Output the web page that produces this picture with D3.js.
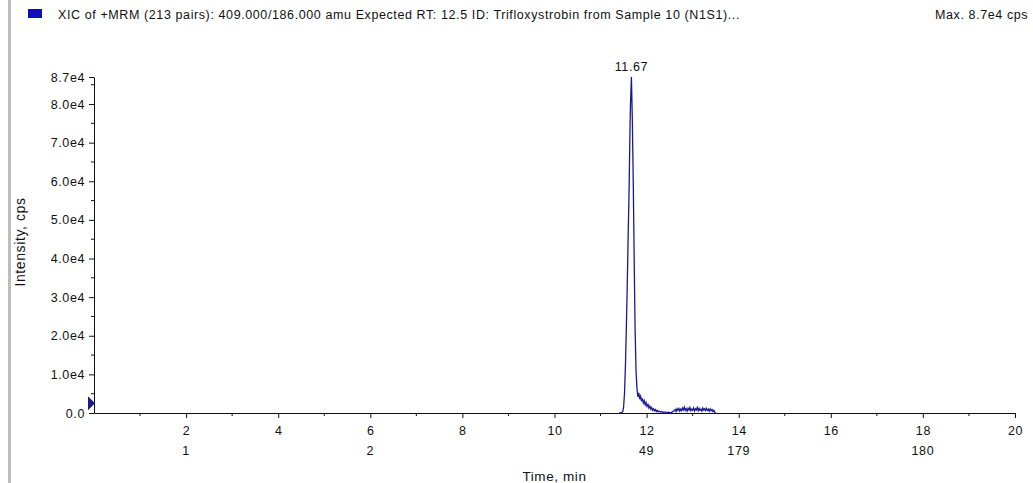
<!DOCTYPE html>
<html lang="en">
<head>
    <meta charset="UTF-8">
    <script src="https://d3js.org/d3.v7.min.js"></script>
    <style>
        body { margin: 0; background: #fff; font-family: Arial, "Liberation Sans", sans-serif; }
        svg { display: block; }
        .axis path, .axis line { stroke: #111; }
        .axis text { font-size: 12.5px; fill: #111; letter-spacing: 0.6px; }
        .lbl { letter-spacing: 0.6px; fill: #111; }
    </style>
</head>
<body>
    <svg id="chart"></svg>
    <script>
        const title = "XIC of +MRM (213 pairs): 409.000/186.000 amu Expected RT: 12.5 ID: Trifloxystrobin from Sample 10 (N1S1)...";
        const maxLabel = "Max. 8.7e4 cps";

        // retention time (min) and intensity (cps)
        const times = [11.40, 11.44, 11.48, 11.50, 11.52, 11.54, 11.56, 11.58, 11.60, 11.62, 11.64, 11.65, 11.67, 11.69, 11.71, 11.73, 11.75, 11.77, 11.79,
            11.81, 11.83, 11.85, 11.87, 11.89, 11.91, 11.93, 11.95, 11.97, 11.99, 12.01, 12.03, 12.05, 12.07, 12.09, 12.11, 12.13, 12.15, 12.17, 12.19,
            12.21, 12.23, 12.25, 12.27, 12.30, 12.33, 12.36, 12.40, 12.44, 12.48, 12.52, 12.56, 12.60, 12.62, 12.64, 12.66, 12.68, 12.70, 12.72, 12.74,
            12.76, 12.78, 12.80, 12.82, 12.84, 12.86, 12.88, 12.90, 12.92, 12.94, 12.96, 12.98, 13.00, 13.02, 13.04, 13.06, 13.08, 13.10, 13.12, 13.14,
            13.16, 13.18, 13.20, 13.22, 13.24, 13.26, 13.28, 13.30, 13.32, 13.34, 13.36, 13.38, 13.40, 13.42, 13.44, 13.46, 13.48, 13.50];
        const intensity = [0, 0, 300, 1500, 5000, 12000, 22000, 33000, 46000, 58000, 74000, 80000, 87000, 76000, 60000, 40000, 22000, 11000, 6500,
            4200, 5200, 3600, 4300, 3000, 3800, 2600, 3200, 2100, 2700, 1700, 2200, 1300, 1800, 1000, 1400, 700, 1100, 600, 900,
            400, 700, 300, 500, 200, 400, 100, 300, 100, 200, 0, 300, 600, 900, 400, 1100, 700, 1200, 500, 1000,
            600, 1300, 800, 1500, 700, 1100, 500, 1200, 800, 1400, 600, 1000, 700, 1300, 500, 1100, 800, 1400, 600, 1200,
            700, 1000, 500, 1300, 800, 1100, 600, 1200, 700, 1000, 500, 1100, 600, 900, 400, 700, 200, 0];

        const peakTime = 11.67, peakValue = 87000, peakLabel = "11.67";
        const markerValue = 2500;

        const xTicks = [2, 4, 6, 8, 10, 12, 14, 16, 18, 20];
        const xMinor = [1, 3, 5, 7, 9, 11, 13, 15, 17, 19];
        const scanTicks = [2, 6, 12, 14, 18];
        const scanLabels = ["1", "2", "49", "179", "180"];
        const yTicks = [0, 10000, 20000, 30000, 40000, 50000, 60000, 70000, 80000, 87000];
        const yTickLabels = ["0.0", "1.0e4", "2.0e4", "3.0e4", "4.0e4", "5.0e4", "6.0e4", "7.0e4", "8.0e4", "8.7e4"];
        const yMinor = [5000, 15000, 25000, 35000, 45000, 55000, 65000, 75000, 85000];

        const W = 1033, H = 483;
        const margin = {top: 77, right: 18, bottom: 70, left: 94};
        const traceColor = "#1a1a90";

        const svg = d3.select("#chart").attr("width", W).attr("height", H);

        const x = d3.scaleLinear().domain([0, 20]).range([margin.left, W - margin.right]);
        const y = d3.scaleLinear().domain([0, 87000]).range([H - margin.bottom, margin.top]);

        // grey frame strip at the left
        svg.append("rect").attr("x", 8).attr("y", 0).attr("width", 3).attr("height", H).attr("fill", "#bdbdbd");

        // legend + title
        svg.append("rect").attr("x", 28).attr("y", 9).attr("width", 14).attr("height", 9).attr("fill", "#1010b8");
        svg.append("text").attr("class", "lbl").attr("x", 58).attr("y", 19).attr("font-size", 12.5).text(title);
        svg.append("text").attr("class", "lbl").attr("x", 935).attr("y", 19).attr("font-size", 12.5).text(maxLabel);

        // axes
        const yAxis = svg.append("g").attr("class", "axis")
            .attr("transform", `translate(${margin.left},0)`)
            .call(d3.axisLeft(y).tickValues(yTicks).tickFormat((d, i) => yTickLabels[i]).tickSize(5).tickSizeOuter(0).tickPadding(4));
        yAxis.selectAll(".minor").data(yMinor).enter().append("line")
            .attr("x1", -3).attr("x2", 0).attr("y1", d => y(d)).attr("y2", d => y(d)).attr("stroke", "#111");

        const xAxis = svg.append("g").attr("class", "axis")
            .attr("transform", `translate(0,${y(0)})`)
            .call(d3.axisBottom(x).tickValues(xTicks).tickSize(5).tickSizeOuter(0).tickPadding(8));
        xAxis.selectAll(".minor").data(xMinor).enter().append("line")
            .attr("x1", d => x(d)).attr("x2", d => x(d)).attr("y1", 0).attr("y2", 3).attr("stroke", "#111");
        xAxis.selectAll(".scan").data(scanTicks).enter().append("text")
            .attr("x", d => x(d)).attr("y", 42).attr("text-anchor", "middle")
            .attr("font-size", 12.5).attr("fill", "#111").style("letter-spacing", "0.6px")
            .text((d, i) => scanLabels[i]);

        // axis titles
        svg.append("text").attr("class", "lbl").attr("transform", `translate(25,242) rotate(-90)`)
            .attr("text-anchor", "middle").attr("font-size", 14).text("Intensity, cps");
        svg.append("text").attr("class", "lbl").attr("x", x(10)).attr("y", 481).attr("text-anchor", "middle")
            .attr("font-size", 13.5).text("Time, min");

        // trace
        const pts = times.map((t, i) => [t, intensity[i]]);
        svg.append("path").datum(pts)
            .attr("fill", "none").attr("stroke", traceColor).attr("stroke-width", 1.3)
            .attr("d", d3.line().x(d => x(d[0])).y(d => y(d[1])));

        // apex label
        svg.append("text").attr("class", "lbl").attr("x", x(peakTime)).attr("y", y(peakValue) - 6)
            .attr("text-anchor", "middle").attr("font-size", 12.5).text(peakLabel);

        // baseline marker on y axis
        const my = y(markerValue);
        svg.append("path")
            .attr("d", `M${margin.left - 6},${my - 7} L${margin.left + 1},${my} L${margin.left - 6},${my + 7} Z`)
            .attr("fill", "#1a1a8a");
    </script>
</body>
</html>
